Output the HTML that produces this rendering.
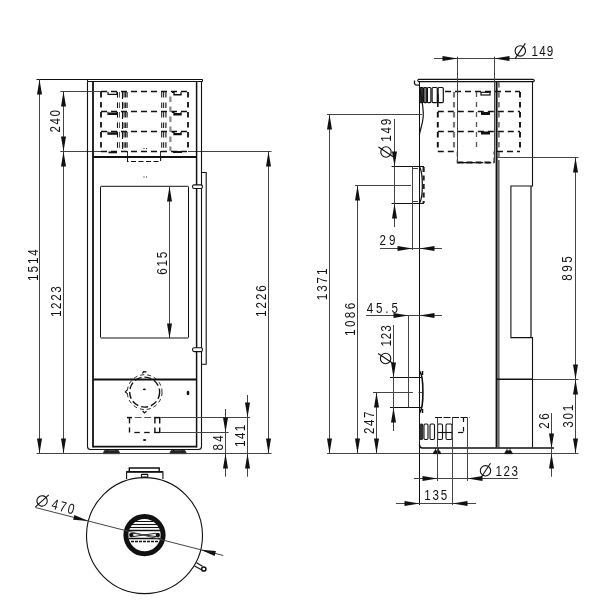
<!DOCTYPE html>
<html><head><meta charset="utf-8"><style>
html,body{margin:0;padding:0;background:#fff;width:600px;height:600px;overflow:hidden}
svg{display:block;filter:grayscale(1)}
text{font-family:"Liberation Sans",sans-serif;fill:#111}
</style></head><body>
<svg width="600" height="600" viewBox="0 0 600 600">
<rect width="600" height="600" fill="#fff"/>
<line x1="60.3" y1="151.5" x2="101" y2="151.5" stroke="#444" stroke-width="1"/>
<line x1="188" y1="151.5" x2="271.5" y2="151.5" stroke="#444" stroke-width="1"/>
<line x1="36.5" y1="79.5" x2="202.5" y2="79.5" stroke="#111" stroke-width="1"/>
<line x1="87.5" y1="81.5" x2="202.5" y2="81.5" stroke="#111" stroke-width="1"/>
<line x1="87.5" y1="79.3" x2="87.5" y2="81.4" stroke="#111" stroke-width="1"/>
<line x1="202.5" y1="79.3" x2="202.5" y2="81.4" stroke="#111" stroke-width="1"/>
<path d="M87.5,81.4 L87.5,446.5 Q87.5,449.5 90.5,449.5 L198.5,449.5 Q201.5,449.5 201.5,446.5 L201.5,81.4" stroke="#111" stroke-width="1.1" fill="none"/>
<path d="M93,81.4 L93,447.4" stroke="#111" stroke-width="1.8" fill="none"/>
<path d="M196.6,81.4 L196.6,447.4" stroke="#111" stroke-width="1.5" fill="none"/>
<line x1="93" y1="446.6" x2="196.6" y2="446.6" stroke="#111" stroke-width="1.6"/>
<line x1="93" y1="157" x2="196.6" y2="157" stroke="#111" stroke-width="1.8"/>
<line x1="93" y1="379.5" x2="196.6" y2="379.5" stroke="#111" stroke-width="1.8"/>
<path d="M103,453.7 L104.5,450.5 L118.5,450.5 L120,453.7 Z" stroke="#111" stroke-width="0.6" fill="#222"/>
<line x1="107" y1="449.5" x2="107" y2="451" stroke="#111" stroke-width="1"/>
<line x1="116" y1="449.5" x2="116" y2="451" stroke="#111" stroke-width="1"/>
<path d="M169.5,453.7 L171.0,450.5 L185.0,450.5 L186.5,453.7 Z" stroke="#111" stroke-width="0.6" fill="#222"/>
<line x1="173.5" y1="449.5" x2="173.5" y2="451" stroke="#111" stroke-width="1"/>
<line x1="182.5" y1="449.5" x2="182.5" y2="451" stroke="#111" stroke-width="1"/>
<line x1="36.5" y1="453.5" x2="271.5" y2="453.5" stroke="#444" stroke-width="1"/>
<rect x="100.5" y="186.3" width="88.0" height="151.7" stroke="#111" stroke-width="1.0" fill="none" rx="0.8"/>
<path d="M201.5,172.5 L206.2,172.5 L206.2,364.3 L201.5,364.3" stroke="#111" stroke-width="1.1" fill="none"/>
<rect x="192.5" y="184.9" width="10.0" height="3.5999999999999943" stroke="#111" stroke-width="1.1" fill="#fff" rx="1.8"/>
<rect x="192.5" y="347.8" width="10.0" height="3.8000000000000114" stroke="#111" stroke-width="1.1" fill="#fff" rx="1.8"/>
<rect x="143.5" y="176.5" width="1.0" height="1.0" fill="#111"/>
<rect x="146" y="176.5" width="1" height="1.0" fill="#111"/>
<rect x="143.5" y="148" width="1.0" height="1" fill="#111"/>
<rect x="146" y="148" width="1" height="1" fill="#111"/>
<line x1="101" y1="91.5" x2="188" y2="91.5" stroke="#111" stroke-width="1.5" stroke-dasharray="6 4"/>
<line x1="101" y1="111.5" x2="188" y2="111.5" stroke="#111" stroke-width="1.5" stroke-dasharray="6 4"/>
<line x1="101" y1="131.5" x2="188" y2="131.5" stroke="#111" stroke-width="1.5" stroke-dasharray="6 4"/>
<line x1="101" y1="151.5" x2="188" y2="151.5" stroke="#111" stroke-width="1.5" stroke-dasharray="6 4"/>
<line x1="101" y1="92" x2="101" y2="151" stroke="#111" stroke-width="1.8" stroke-dasharray="5.5 4.5"/>
<line x1="188" y1="92" x2="188" y2="151" stroke="#111" stroke-width="1.8" stroke-dasharray="5.5 4.5"/>
<line x1="122.5" y1="92" x2="122.5" y2="151" stroke="#111" stroke-width="1.1" stroke-dasharray="7 3"/>
<line x1="170.4" y1="96.4" x2="170.4" y2="151" stroke="#888" stroke-width="2.2" stroke-dasharray="5.5 4.5"/>
<line x1="117.5" y1="92.0" x2="117.5" y2="97.6" stroke="#111" stroke-width="1.1"/>
<line x1="119.5" y1="92.0" x2="119.5" y2="97.6" stroke="#444" stroke-width="0.9"/>
<line x1="124.1" y1="92.0" x2="124.1" y2="97.6" stroke="#222" stroke-width="1.1"/>
<line x1="125.6" y1="92.0" x2="125.6" y2="97.6" stroke="#222" stroke-width="1.1"/>
<line x1="127.1" y1="92.0" x2="127.1" y2="97.6" stroke="#111" stroke-width="1.1"/>
<line x1="161.7" y1="92.0" x2="161.7" y2="97.6" stroke="#222" stroke-width="1.1"/>
<line x1="163.6" y1="92.0" x2="163.6" y2="97.6" stroke="#222" stroke-width="1.1"/>
<line x1="165.9" y1="92.0" x2="165.9" y2="97.6" stroke="#111" stroke-width="1.1"/>
<line x1="117.5" y1="102.4" x2="117.5" y2="108.0" stroke="#111" stroke-width="1.1"/>
<line x1="119.5" y1="102.4" x2="119.5" y2="108.0" stroke="#444" stroke-width="0.9"/>
<line x1="124.1" y1="102.4" x2="124.1" y2="108.0" stroke="#222" stroke-width="1.1"/>
<line x1="125.6" y1="102.4" x2="125.6" y2="108.0" stroke="#222" stroke-width="1.1"/>
<line x1="127.1" y1="102.4" x2="127.1" y2="108.0" stroke="#111" stroke-width="1.1"/>
<line x1="161.7" y1="102.4" x2="161.7" y2="108.0" stroke="#222" stroke-width="1.1"/>
<line x1="163.6" y1="102.4" x2="163.6" y2="108.0" stroke="#222" stroke-width="1.1"/>
<line x1="165.9" y1="102.4" x2="165.9" y2="108.0" stroke="#111" stroke-width="1.1"/>
<line x1="117.5" y1="112.0" x2="117.5" y2="117.6" stroke="#111" stroke-width="1.1"/>
<line x1="119.5" y1="112.0" x2="119.5" y2="117.6" stroke="#444" stroke-width="0.9"/>
<line x1="124.1" y1="112.0" x2="124.1" y2="117.6" stroke="#222" stroke-width="1.1"/>
<line x1="125.6" y1="112.0" x2="125.6" y2="117.6" stroke="#222" stroke-width="1.1"/>
<line x1="127.1" y1="112.0" x2="127.1" y2="117.6" stroke="#111" stroke-width="1.1"/>
<line x1="161.7" y1="112.0" x2="161.7" y2="117.6" stroke="#222" stroke-width="1.1"/>
<line x1="163.6" y1="112.0" x2="163.6" y2="117.6" stroke="#222" stroke-width="1.1"/>
<line x1="165.9" y1="112.0" x2="165.9" y2="117.6" stroke="#111" stroke-width="1.1"/>
<line x1="117.5" y1="122.4" x2="117.5" y2="128.0" stroke="#111" stroke-width="1.1"/>
<line x1="119.5" y1="122.4" x2="119.5" y2="128.0" stroke="#444" stroke-width="0.9"/>
<line x1="124.1" y1="122.4" x2="124.1" y2="128.0" stroke="#222" stroke-width="1.1"/>
<line x1="125.6" y1="122.4" x2="125.6" y2="128.0" stroke="#222" stroke-width="1.1"/>
<line x1="127.1" y1="122.4" x2="127.1" y2="128.0" stroke="#111" stroke-width="1.1"/>
<line x1="161.7" y1="122.4" x2="161.7" y2="128.0" stroke="#222" stroke-width="1.1"/>
<line x1="163.6" y1="122.4" x2="163.6" y2="128.0" stroke="#222" stroke-width="1.1"/>
<line x1="165.9" y1="122.4" x2="165.9" y2="128.0" stroke="#111" stroke-width="1.1"/>
<line x1="117.5" y1="131.8" x2="117.5" y2="137.4" stroke="#111" stroke-width="1.1"/>
<line x1="119.5" y1="131.8" x2="119.5" y2="137.4" stroke="#444" stroke-width="0.9"/>
<line x1="124.1" y1="131.8" x2="124.1" y2="137.4" stroke="#222" stroke-width="1.1"/>
<line x1="125.6" y1="131.8" x2="125.6" y2="137.4" stroke="#222" stroke-width="1.1"/>
<line x1="127.1" y1="131.8" x2="127.1" y2="137.4" stroke="#111" stroke-width="1.1"/>
<line x1="161.7" y1="131.8" x2="161.7" y2="137.4" stroke="#222" stroke-width="1.1"/>
<line x1="163.6" y1="131.8" x2="163.6" y2="137.4" stroke="#222" stroke-width="1.1"/>
<line x1="165.9" y1="131.8" x2="165.9" y2="137.4" stroke="#111" stroke-width="1.1"/>
<line x1="117.5" y1="142.2" x2="117.5" y2="147.79999999999998" stroke="#111" stroke-width="1.1"/>
<line x1="119.5" y1="142.2" x2="119.5" y2="147.79999999999998" stroke="#444" stroke-width="0.9"/>
<line x1="124.1" y1="142.2" x2="124.1" y2="147.79999999999998" stroke="#222" stroke-width="1.1"/>
<line x1="125.6" y1="142.2" x2="125.6" y2="147.79999999999998" stroke="#222" stroke-width="1.1"/>
<line x1="127.1" y1="142.2" x2="127.1" y2="147.79999999999998" stroke="#111" stroke-width="1.1"/>
<line x1="161.7" y1="142.2" x2="161.7" y2="147.79999999999998" stroke="#222" stroke-width="1.1"/>
<line x1="163.6" y1="142.2" x2="163.6" y2="147.79999999999998" stroke="#222" stroke-width="1.1"/>
<line x1="165.9" y1="142.2" x2="165.9" y2="147.79999999999998" stroke="#111" stroke-width="1.1"/>
<path d="M108,91.7 L108,94.4 L117,94.4 L117,91.7" stroke="#111" stroke-width="1.2" fill="none"/>
<path d="M172,92.2 L174,92.2 L174,94.7 L181,94.7 L181,92.2" stroke="#111" stroke-width="1.4" fill="none"/>
<path d="M108,111.7 L108,114.4 L117,114.4 L117,111.7" stroke="#111" stroke-width="1.2" fill="none"/>
<path d="M172,112.2 L174,112.2 L174,114.7 L181,114.7 L181,112.2" stroke="#111" stroke-width="1.4" fill="none"/>
<path d="M108,131.5 L108,134.2 L117,134.2 L117,131.5" stroke="#111" stroke-width="1.2" fill="none"/>
<path d="M172,132.0 L174,132.0 L174,134.5 L181,134.5 L181,132.0" stroke="#111" stroke-width="1.4" fill="none"/>
<rect x="108.5" y="112.5" width="8.5" height="1.7999999999999972" fill="#111"/>
<rect x="108.5" y="132.3" width="8.5" height="1.799999999999983" fill="#111"/>
<rect x="108.5" y="151.5" width="8.5" height="1.8000000000000114" fill="#111"/>
<rect x="174" y="113" width="7" height="2" fill="#111"/>
<rect x="174" y="133" width="7" height="2" fill="#111"/>
<rect x="173" y="151" width="9" height="2" fill="#111"/>
<path d="M127.5,157.5 L127.5,161.5 L160.6,161.5 L160.6,157.5" stroke="#111" stroke-width="1.1" fill="none" stroke-dasharray="5 2.5"/>
<line x1="127.5" y1="151" x2="127.5" y2="157" stroke="#111" stroke-width="0.9"/>
<line x1="160.5" y1="151" x2="160.5" y2="157" stroke="#111" stroke-width="0.9"/>
<circle cx="144.65" cy="392.1" r="15" fill="none" stroke="#111" stroke-width="1.4" stroke-dasharray="7 3"/>
<circle cx="144.65" cy="392.1" r="17.4" fill="none" stroke="#111" stroke-width="0.9" stroke-dasharray="4 3"/>
<ellipse cx="144.4" cy="389.3" rx="1.5" ry="0.9" fill="#111"/>
<path d="M142.5,373.5 L143.5,371.6 L146.5,371.8" stroke="#111" stroke-width="1.2" fill="none"/>
<path d="M127,390 L125.4,392 L127.3,393.6" stroke="#111" stroke-width="1.2" fill="none"/>
<path d="M142.6,410.8 L144.4,413 L146.5,411.3" stroke="#111" stroke-width="1.2" fill="none"/>
<ellipse cx="188" cy="393" rx="1.4" ry="2.2" fill="#111"/>
<line x1="129.5" y1="417.5" x2="129.5" y2="423.4" stroke="#111" stroke-width="1.4"/>
<line x1="129.5" y1="427.4" x2="129.5" y2="432.5" stroke="#111" stroke-width="1.4"/>
<line x1="154.9" y1="417.5" x2="154.9" y2="423.4" stroke="#111" stroke-width="1.4"/>
<line x1="154.9" y1="427.4" x2="154.9" y2="432.5" stroke="#111" stroke-width="1.4"/>
<line x1="159.7" y1="417.5" x2="159.7" y2="423.4" stroke="#111" stroke-width="1.4"/>
<line x1="159.7" y1="427.4" x2="159.7" y2="432.5" stroke="#111" stroke-width="1.4"/>
<line x1="127" y1="417.6" x2="132" y2="417.6" stroke="#111" stroke-width="1.5"/>
<line x1="154.1" y1="417.6" x2="160.4" y2="417.6" stroke="#111" stroke-width="1.5"/>
<line x1="134.7" y1="417.5" x2="141.6" y2="417.5" stroke="#555" stroke-width="1"/>
<line x1="144.2" y1="417.5" x2="151.2" y2="417.5" stroke="#555" stroke-width="1"/>
<line x1="134.3" y1="432.5" x2="139.8" y2="432.5" stroke="#111" stroke-width="1.3"/>
<line x1="144.2" y1="432.5" x2="149.7" y2="432.5" stroke="#111" stroke-width="1.3"/>
<line x1="154" y1="432.5" x2="160" y2="432.5" stroke="#111" stroke-width="1.3"/>
<ellipse cx="144.6" cy="440" rx="1.6" ry="0.9" fill="#111"/>
<line x1="39.5" y1="79.3" x2="39.5" y2="453" stroke="#444" stroke-width="1"/>
<path d="M39.50,79.50 L42.00,94.50 L37.00,94.50Z" fill="#111"/>
<path d="M39.50,453.50 L37.00,438.50 L42.00,438.50Z" fill="#111"/>
<text transform="translate(37.5,281.0) rotate(-90) scale(0.8,1)" x="0" y="0" font-size="14.5" letter-spacing="2.500">1514</text>
<line x1="60.3" y1="91.5" x2="101" y2="91.5" stroke="#444" stroke-width="1"/>
<line x1="63.5" y1="91.7" x2="63.5" y2="453" stroke="#444" stroke-width="1"/>
<path d="M63.50,91.50 L66.00,106.50 L61.00,106.50Z" fill="#111"/>
<path d="M63.50,151.50 L61.00,136.50 L66.00,136.50Z" fill="#111"/>
<path d="M63.50,151.50 L66.00,166.50 L61.00,166.50Z" fill="#111"/>
<path d="M63.50,453.50 L61.00,438.50 L66.00,438.50Z" fill="#111"/>
<text transform="translate(60.0,132.6) rotate(-90) scale(0.8,1)" x="0" y="0" font-size="14.5" letter-spacing="2.031">240</text>
<text transform="translate(60.5,317.0) rotate(-90) scale(0.8,1)" x="0" y="0" font-size="14.5" letter-spacing="2.083">1223</text>
<line x1="169.5" y1="186.25" x2="169.5" y2="338" stroke="#444" stroke-width="1"/>
<path d="M169.50,186.50 L172.00,201.50 L167.00,201.50Z" fill="#111"/>
<path d="M169.50,338.50 L167.00,323.50 L172.00,323.50Z" fill="#111"/>
<text transform="translate(166.9,274.75) rotate(-90) scale(0.8,1)" x="0" y="0" font-size="14.5" letter-spacing="2.188">615</text>
<line x1="268.5" y1="151" x2="268.5" y2="453" stroke="#444" stroke-width="1"/>
<path d="M268.50,151.50 L271.00,166.50 L266.00,166.50Z" fill="#111"/>
<path d="M268.50,453.50 L266.00,438.50 L271.00,438.50Z" fill="#111"/>
<text transform="translate(266.0,317.0) rotate(-90) scale(0.8,1)" x="0" y="0" font-size="14.5" letter-spacing="2.500">1226</text>
<line x1="160.4" y1="417.5" x2="250" y2="417.5" stroke="#444" stroke-width="1"/>
<line x1="160" y1="432.5" x2="228.7" y2="432.5" stroke="#444" stroke-width="1"/>
<line x1="225.5" y1="409" x2="225.5" y2="476.7" stroke="#444" stroke-width="1"/>
<path d="M225.50,432.50 L223.00,417.50 L228.00,417.50Z" fill="#111"/>
<path d="M225.50,453.50 L228.00,468.50 L223.00,468.50Z" fill="#111"/>
<text transform="translate(222.9,450.5) rotate(-90) scale(0.8,1)" x="0" y="0" font-size="14.5" letter-spacing="3.000">84</text>
<line x1="247.5" y1="395" x2="247.5" y2="476.7" stroke="#444" stroke-width="1"/>
<path d="M247.50,417.50 L245.00,402.50 L250.00,402.50Z" fill="#111"/>
<path d="M247.50,453.50 L250.00,468.50 L245.00,468.50Z" fill="#111"/>
<text transform="translate(244.5,446.9) rotate(-90) scale(0.8,1)" x="0" y="0" font-size="14.5" letter-spacing="1.750">141</text>
<circle cx="144.5" cy="535.6" r="58" fill="none" stroke="#111" stroke-width="1.1"/>
<path d="M126.6,479 L126.6,471.8 L162.9,471.8 L162.9,479" stroke="#111" stroke-width="1.1" fill="none"/>
<line x1="126.6" y1="471.9" x2="162.9" y2="471.9" stroke="#111" stroke-width="1.7"/>
<path d="M129.3,471.5 L129.3,468 L159.2,468 L159.2,471.5" stroke="#111" stroke-width="1.4" fill="none"/>
<rect x="141.4" y="474.4" width="6.400000000000006" height="2.6000000000000227" stroke="#111" stroke-width="1.1" fill="none" rx="0.6"/>
<circle cx="144.5" cy="535.1" r="18.6" fill="none" stroke="#111" stroke-width="5"/>
<line x1="133.3" y1="521.5" x2="153.2" y2="521.5" stroke="#111" stroke-width="1"/>
<line x1="130.4" y1="524.5" x2="157.8" y2="524.5" stroke="#111" stroke-width="1.1"/>
<line x1="129.8" y1="527.5" x2="159" y2="527.5" stroke="#111" stroke-width="1.1"/>
<line x1="129" y1="530.5" x2="160" y2="530.5" stroke="#111" stroke-width="1.5"/>
<line x1="129" y1="538.5" x2="160" y2="538.5" stroke="#111" stroke-width="1.5"/>
<line x1="131" y1="541.5" x2="158" y2="541.5" stroke="#111" stroke-width="1.7" stroke-dasharray="3 1"/>
<path d="M133,533.2 L156,536.6 M133,536.6 L156,533.2" stroke="#111" stroke-width="0.9" fill="none"/>
<circle cx="131.3" cy="535" r="2.2" fill="#111"/><circle cx="157.8" cy="535" r="2.2" fill="#111"/>
<line x1="35.3" y1="507.5" x2="223.3" y2="555.5" stroke="#444" stroke-width="1"/>
<path d="M88.30,521.10 L73.15,519.81 L74.38,514.97Z" fill="#111"/>
<path d="M200.70,549.80 L215.85,551.09 L214.62,555.93Z" fill="#111"/>
<g transform="translate(42.1,500.9) rotate(14.322719978203553)"><circle r="5.2" fill="none" stroke="#111" stroke-width="1.1"/><line x1="-5" y1="7.5" x2="5" y2="-7.5" stroke="#111" stroke-width="1.1"/></g>
<text transform="translate(50.8,508.6) rotate(14.32) scale(0.8,1)" x="0" y="0" font-size="14.5" letter-spacing="2.3">470</text>
<path d="M196.5,562.8 L202.5,566.2 M194.5,566 L201.5,569.8" stroke="#111" stroke-width="1.1" fill="none"/>
<circle cx="203.8" cy="569" r="2.1" fill="#fff" stroke="#111" stroke-width="1.5"/>
<path d="M418.5,79.4 L532.5,79.4 Q534.5,79.6 534.3,81 L533.5,81.6 L418.5,81.6 Q417,80.5 418.5,79.4 Z" stroke="#111" stroke-width="1.1" fill="none"/>
<path d="M414.5,80.5 L414.5,83.5 Q414.8,85.2 417,85.2 L419.3,85.2" stroke="#111" stroke-width="1.3" fill="none"/>
<line x1="419.5" y1="81.5" x2="419.5" y2="505" stroke="#111" stroke-width="1"/>
<line x1="496.6" y1="81.5" x2="496.6" y2="447.5" stroke="#111" stroke-width="2.0"/>
<line x1="498.8" y1="160" x2="498.8" y2="447.5" stroke="#666" stroke-width="1.6"/>
<path d="M532.5,81.5 L532.5,186 L510.9,186 L510.9,337.6 L532.5,337.6 L532.5,447.5" stroke="#111" stroke-width="1.1" fill="none"/>
<line x1="531" y1="186" x2="531" y2="337.6" stroke="#111" stroke-width="1.2"/>
<line x1="497" y1="157.5" x2="578.5" y2="157.5" stroke="#444" stroke-width="1"/>
<line x1="497" y1="379.5" x2="578.5" y2="379.5" stroke="#444" stroke-width="1"/>
<line x1="497" y1="379.2" x2="532.5" y2="379.2" stroke="#111" stroke-width="1.6"/>
<path d="M419.5,444.5 Q419.5,448 422.5,448 L554,448" stroke="#111" stroke-width="1.5" fill="none"/>
<line x1="327" y1="453.5" x2="578.5" y2="453.5" stroke="#444" stroke-width="1"/>
<path d="M433,453.7 L434.5,450.7 L439.5,450.7 L441,453.7 Z" stroke="#111" stroke-width="0.6" fill="#111"/>
<line x1="435.5" y1="448" x2="435.5" y2="451" stroke="#111" stroke-width="0.8"/>
<line x1="438.5" y1="448" x2="438.5" y2="451" stroke="#111" stroke-width="0.8"/>
<path d="M504.5,453.7 L506.0,450.7 L511.0,450.7 L512.5,453.7 Z" stroke="#111" stroke-width="0.6" fill="#111"/>
<line x1="507.0" y1="448" x2="507.0" y2="451" stroke="#111" stroke-width="0.8"/>
<line x1="510.0" y1="448" x2="510.0" y2="451" stroke="#111" stroke-width="0.8"/>
<rect x="419.6" y="87.5" width="3.6999999999999886" height="15.099999999999994" stroke="#111" stroke-width="1.2" fill="#333" rx="1"/>
<rect x="423.6" y="87.5" width="3.2999999999999545" height="15.099999999999994" stroke="#111" stroke-width="1.2" fill="#777" rx="1"/>
<rect x="427.4" y="87.5" width="3.5" height="15.099999999999994" stroke="#111" stroke-width="1.2" fill="#fff" rx="1"/>
<rect x="432.1" y="87.5" width="5.199999999999989" height="15.099999999999994" stroke="#111" stroke-width="1.2" fill="#fff" rx="1"/>
<rect x="438.1" y="87.5" width="5.199999999999989" height="15.099999999999994" stroke="#111" stroke-width="1.2" fill="#fff" rx="1"/>
<path d="M419.5,87 C421,95 424,108 423.2,117 C422.5,125 420,130 419.4,135" stroke="#111" stroke-width="1.2" fill="none"/>
<line x1="437.8" y1="94" x2="437.8" y2="107" stroke="#111" stroke-width="1.6"/>
<line x1="437.8" y1="111.5" x2="520" y2="111.5" stroke="#111" stroke-width="1.5" stroke-dasharray="6 4"/>
<line x1="437.8" y1="131.5" x2="520" y2="131.5" stroke="#111" stroke-width="1.5" stroke-dasharray="6 4"/>
<line x1="445" y1="91.5" x2="520" y2="91.5" stroke="#111" stroke-width="1.5" stroke-dasharray="6 4"/>
<line x1="437.8" y1="151.5" x2="456" y2="151.5" stroke="#111" stroke-width="1.5" stroke-dasharray="6 4"/>
<line x1="497" y1="151.5" x2="520" y2="151.5" stroke="#111" stroke-width="1.5" stroke-dasharray="6 4"/>
<line x1="437.8" y1="112" x2="437.8" y2="151.3" stroke="#111" stroke-width="1.9" stroke-dasharray="5.5 4.5"/>
<line x1="454" y1="92" x2="454" y2="151.3" stroke="#777" stroke-width="2.2" stroke-dasharray="5.5 4.5"/>
<line x1="476.5" y1="92" x2="476.5" y2="151.3" stroke="#555" stroke-width="1.3" stroke-dasharray="5 5"/>
<line x1="520" y1="92" x2="520" y2="151.3" stroke="#111" stroke-width="1.9" stroke-dasharray="5.5 4.5"/>
<line x1="498.7" y1="82" x2="498.7" y2="160" stroke="#777" stroke-width="2.2" stroke-dasharray="5.5 4.5"/>
<rect x="481" y="92.3" width="9" height="2.700000000000003" stroke="#111" stroke-width="1.2" fill="none"/>
<rect x="481" y="112" width="9" height="3" fill="#111"/>
<rect x="481" y="131.5" width="9" height="3.0" fill="#111"/>
<path d="M457.4,151.5 L457.4,162.6 L494.2,162.6 L494.2,151.5" stroke="#111" stroke-width="1.3" fill="none" stroke-dasharray="5 3"/>
<line x1="457.4" y1="162.6" x2="494.2" y2="162.6" stroke="#111" stroke-width="2" stroke-dasharray="6 3"/>
<line x1="457.5" y1="56.7" x2="457.5" y2="162.6" stroke="#444" stroke-width="1"/>
<line x1="494.5" y1="56.7" x2="494.5" y2="162.6" stroke="#444" stroke-width="1"/>
<line x1="434" y1="58.5" x2="553" y2="58.5" stroke="#444" stroke-width="1"/>
<path d="M457.50,58.50 L442.50,61.00 L442.50,56.00Z" fill="#111"/>
<path d="M494.50,58.50 L509.50,56.00 L509.50,61.00Z" fill="#111"/>
<g transform="translate(520.3,50.9) rotate(0)"><circle r="5.2" fill="none" stroke="#111" stroke-width="1.1"/><line x1="-5" y1="7.5" x2="5" y2="-7.5" stroke="#111" stroke-width="1.1"/></g>
<text transform="translate(531.6,55.85) rotate(0) scale(0.8,1)" x="0" y="0" font-size="14.5" letter-spacing="1.375">149</text>
<line x1="391.6" y1="166.5" x2="424" y2="166.5" stroke="#111" stroke-width="1"/>
<line x1="391.6" y1="203.5" x2="424" y2="203.5" stroke="#111" stroke-width="1"/>
<line x1="412.5" y1="166.4" x2="412.5" y2="250" stroke="#444" stroke-width="1"/>
<path d="M419.5,166.4 C421.8,171 422.4,179 422.3,185 C422.4,191 421.8,199 419.5,203.4" stroke="#111" stroke-width="1.2" fill="none"/>
<line x1="423.6" y1="167" x2="423.6" y2="203" stroke="#222" stroke-width="2.2" stroke-dasharray="5 3.5"/>
<line x1="412.9" y1="168.5" x2="418" y2="168.5" stroke="#111" stroke-width="0.8"/>
<line x1="412.9" y1="201.5" x2="418" y2="201.5" stroke="#111" stroke-width="0.8"/>
<line x1="394.5" y1="119" x2="394.5" y2="227" stroke="#444" stroke-width="1"/>
<path d="M394.50,166.50 L392.00,151.50 L397.00,151.50Z" fill="#111"/>
<path d="M394.50,203.50 L397.00,218.50 L392.00,218.50Z" fill="#111"/>
<text transform="translate(391.2,141.75) rotate(-90) scale(0.8,1)" x="0" y="0" font-size="14.5" letter-spacing="2.188">149</text>
<g transform="translate(386,152) rotate(-90)"><circle r="5.2" fill="none" stroke="#111" stroke-width="1.1"/><line x1="-5" y1="7.5" x2="5" y2="-7.5" stroke="#111" stroke-width="1.1"/></g>
<line x1="380" y1="248.5" x2="442" y2="248.5" stroke="#444" stroke-width="1"/>
<path d="M412.50,248.50 L397.50,251.00 L397.50,246.00Z" fill="#111"/>
<path d="M419.50,248.50 L434.50,246.00 L434.50,251.00Z" fill="#111"/>
<text transform="translate(379.4,245.4) rotate(0) scale(0.8,1)" x="0" y="0" font-size="14.5" letter-spacing="4.000">29</text>
<line x1="355" y1="185.5" x2="411" y2="185.5" stroke="#444" stroke-width="1"/>
<line x1="357.5" y1="185" x2="357.5" y2="453" stroke="#444" stroke-width="1"/>
<path d="M357.50,185.50 L360.00,200.50 L355.00,200.50Z" fill="#111"/>
<path d="M357.50,453.50 L355.00,438.50 L360.00,438.50Z" fill="#111"/>
<text transform="translate(355.0,336.0) rotate(-90) scale(0.8,1)" x="0" y="0" font-size="14.5" letter-spacing="3.083">1086</text>
<line x1="327" y1="114.5" x2="422" y2="114.5" stroke="#444" stroke-width="1"/>
<line x1="329.5" y1="114.4" x2="329.5" y2="453" stroke="#444" stroke-width="1"/>
<path d="M329.50,114.50 L332.00,129.50 L327.00,129.50Z" fill="#111"/>
<path d="M329.50,453.50 L327.00,438.50 L332.00,438.50Z" fill="#111"/>
<text transform="translate(327.0,300.3) rotate(-90) scale(0.8,1)" x="0" y="0" font-size="14.5" letter-spacing="2.500">1371</text>
<line x1="390" y1="377.5" x2="422" y2="377.5" stroke="#111" stroke-width="1"/>
<line x1="390" y1="407.5" x2="422" y2="407.5" stroke="#111" stroke-width="1"/>
<line x1="408.5" y1="315.6" x2="408.5" y2="407.4" stroke="#444" stroke-width="1"/>
<path d="M419.5,371 C422.5,375 423,384 422.9,392 C423,400 422.5,409 419.5,413" stroke="#111" stroke-width="1.6" fill="none"/>
<line x1="418.5" y1="392.5" x2="422" y2="392.5" stroke="#444" stroke-width="1"/>
<line x1="422.5" y1="371" x2="422.5" y2="375" stroke="#111" stroke-width="1.5"/>
<line x1="422.5" y1="409" x2="422.5" y2="413" stroke="#111" stroke-width="1.5"/>
<line x1="366" y1="315.5" x2="442" y2="315.5" stroke="#444" stroke-width="1"/>
<path d="M408.50,315.50 L393.50,318.00 L393.50,313.00Z" fill="#111"/>
<path d="M419.50,315.50 L434.50,313.00 L434.50,318.00Z" fill="#111"/>
<text transform="translate(366.7,313.1) rotate(0) scale(0.8,1)" x="0" y="0" font-size="14.5" letter-spacing="3.583">45.5</text>
<line x1="393.5" y1="325" x2="393.5" y2="431" stroke="#444" stroke-width="1"/>
<path d="M393.50,377.50 L391.00,362.50 L396.00,362.50Z" fill="#111"/>
<path d="M393.50,407.50 L396.00,422.50 L391.00,422.50Z" fill="#111"/>
<text transform="translate(390.6,346.6) rotate(-90) scale(0.8,1)" x="0" y="0" font-size="14.5" letter-spacing="1.250">123</text>
<g transform="translate(385.6,358.5) rotate(-90)"><circle r="5.2" fill="none" stroke="#111" stroke-width="1.1"/><line x1="-5" y1="7.5" x2="5" y2="-7.5" stroke="#111" stroke-width="1.1"/></g>
<line x1="373" y1="392.5" x2="413" y2="392.5" stroke="#444" stroke-width="1"/>
<line x1="376.5" y1="392" x2="376.5" y2="453" stroke="#444" stroke-width="1"/>
<path d="M376.50,392.50 L379.00,407.50 L374.00,407.50Z" fill="#111"/>
<path d="M376.50,453.50 L374.00,438.50 L379.00,438.50Z" fill="#111"/>
<text transform="translate(373.5,434.0) rotate(-90) scale(0.8,1)" x="0" y="0" font-size="14.5" letter-spacing="1.875">247</text>
<rect x="420" y="424" width="2.6999999999999886" height="15.5" stroke="#111" stroke-width="1.1" fill="none" rx="1.2"/>
<rect x="424" y="424" width="4" height="15.5" stroke="#111" stroke-width="1.1" fill="none" rx="1.2"/>
<rect x="430" y="424" width="4.5" height="15.5" stroke="#111" stroke-width="1.1" fill="none" rx="1.2"/>
<rect x="437.6" y="424" width="4.899999999999977" height="15.5" stroke="#111" stroke-width="1.1" fill="none" rx="1.2"/>
<rect x="446" y="424" width="6" height="15.5" stroke="#111" stroke-width="1.1" fill="none" rx="1.2"/>
<rect x="420" y="424" width="2" height="15.5" fill="#333"/>
<line x1="435" y1="417.5" x2="469.5" y2="417.5" stroke="#111" stroke-width="1.2" stroke-dasharray="7 1.5"/>
<line x1="463.5" y1="417.5" x2="463.5" y2="432" stroke="#111" stroke-width="1.2" stroke-dasharray="4.5 5"/>
<line x1="458" y1="432.5" x2="463.3" y2="432.5" stroke="#111" stroke-width="1.2"/>
<line x1="437" y1="432.5" x2="453" y2="432.5" stroke="#111" stroke-width="1.1"/>
<line x1="437.5" y1="417.5" x2="437.5" y2="481" stroke="#444" stroke-width="1"/>
<line x1="467.5" y1="417.5" x2="467.5" y2="481" stroke="#444" stroke-width="1"/>
<line x1="452.5" y1="417.5" x2="452.5" y2="505" stroke="#444" stroke-width="1"/>
<line x1="414" y1="478.5" x2="518" y2="478.5" stroke="#444" stroke-width="1"/>
<path d="M437.50,478.50 L422.50,481.00 L422.50,476.00Z" fill="#111"/>
<path d="M467.50,478.50 L482.50,476.00 L482.50,481.00Z" fill="#111"/>
<g transform="translate(485.5,470.8) rotate(0)"><circle r="5.2" fill="none" stroke="#111" stroke-width="1.1"/><line x1="-5" y1="7.5" x2="5" y2="-7.5" stroke="#111" stroke-width="1.1"/></g>
<text transform="translate(495.5,475.5) rotate(0) scale(0.8,1)" x="0" y="0" font-size="14.5" letter-spacing="1.875">123</text>
<line x1="396" y1="503.5" x2="476" y2="503.5" stroke="#444" stroke-width="1"/>
<path d="M419.50,503.50 L404.50,506.00 L404.50,501.00Z" fill="#111"/>
<path d="M452.50,503.50 L467.50,501.00 L467.50,506.00Z" fill="#111"/>
<text transform="translate(424.25,500.4) rotate(0) scale(0.8,1)" x="0" y="0" font-size="14.5" letter-spacing="2.312">135</text>
<line x1="575.5" y1="157" x2="575.5" y2="453" stroke="#444" stroke-width="1"/>
<path d="M575.50,157.50 L578.00,172.50 L573.00,172.50Z" fill="#111"/>
<path d="M575.50,379.50 L573.00,364.50 L578.00,364.50Z" fill="#111"/>
<path d="M575.50,379.50 L578.00,394.50 L573.00,394.50Z" fill="#111"/>
<path d="M575.50,453.50 L573.00,438.50 L578.00,438.50Z" fill="#111"/>
<text transform="translate(572.35,280.7) rotate(-90) scale(0.8,1)" x="0" y="0" font-size="14.5" letter-spacing="3.125">895</text>
<text transform="translate(572.5,427.75) rotate(-90) scale(0.8,1)" x="0" y="0" font-size="14.5" letter-spacing="2.188">301</text>
<line x1="551.5" y1="413" x2="551.5" y2="476.7" stroke="#444" stroke-width="1"/>
<path d="M551.50,448.50 L549.00,433.50 L554.00,433.50Z" fill="#111"/>
<path d="M551.50,453.50 L554.00,468.50 L549.00,468.50Z" fill="#111"/>
<text transform="translate(548.75,428.75) rotate(-90) scale(0.8,1)" x="0" y="0" font-size="14.5" letter-spacing="3.125">26</text>
</svg>
</body></html>
